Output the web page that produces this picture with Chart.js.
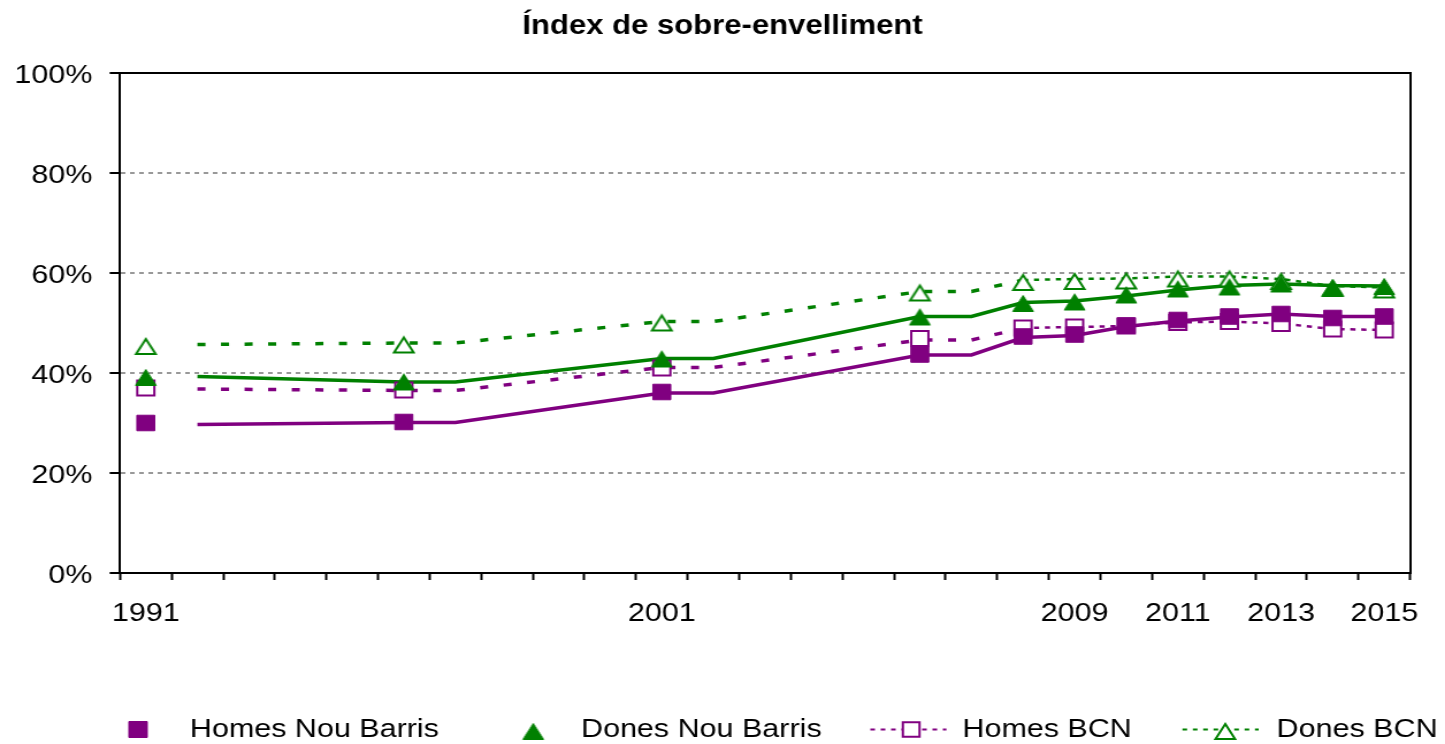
<!DOCTYPE html>
<html lang="ca">
<head>
<meta charset="utf-8">
<title>Índex de sobre-envelliment</title>
<script src="https://cdn.jsdelivr.net/npm/chart.js@4.4.1/dist/chart.umd.min.js"></script>
<style>
  html, body { margin: 0; padding: 0; background: #fff; overflow: hidden; }
  /* the original Excel picture is stretched sideways, so the canvas is too */
  #chart { display: block; transform: scaleX(1.1505); transform-origin: 0 0; }
</style>
</head>
<body>
<canvas id="chart" width="1256" height="744"></canvas>
<script>
// one slot per year, only a few of them get a label
const years = ['1991', '1992', '1993', '1994', '1995', '1996', '1997', '1998', '1999', '2000',
  '2001', '2002', '2003', '2004', '2005', '2006', '2007', '2008', '2009', '2010',
  '2011', '2012', '2013', '2014', '2015'];
const labelledYears = ['1991', '2001', '2009', '2011', '2013', '2015'];

// marker series (%)
const homesNouBarris = [30.0, null, null, null, null, 30.2, null, null, null, null,
  36.2, null, null, null, null, 43.7, null, 47.3, 47.7, 49.5, 50.6, 51.3, 51.8, 51.0, 51.3];
const donesNouBarris = [39.6, null, null, null, null, 38.7, null, null, null, null,
  43.3, null, null, null, null, 51.7, null, 54.4, 54.7, 56.1, 57.3, 57.7, 58.3, 57.6, 57.8];
const homesBcn = [37.0, null, null, null, null, 36.6, null, null, null, null,
  41.0, null, null, null, null, 46.9, null, 49.0, 49.2, 49.4, 50.1, 50.3, 49.9, 48.8, 48.6];
const donesBcn = [45.8, null, null, null, null, 46.1, null, null, null, null,
  50.5, null, null, null, null, 56.5, null, 58.6, 58.8, 58.9, 59.3, 59.3, 58.8, 57.4, 57.1];

// helper lines drawn without markers (shifted one year after each census value)
const homesNouBarrisLine = [null, 29.7, null, null, null, 30.1, 30.1, null, null, null,
  36.0, 36.0, null, null, null, 43.6, 43.6, 47.1, 47.5, 49.3, 50.4, 51.2, 51.8, 51.3, 51.3];
const donesNouBarrisLine = [null, 39.3, null, null, null, 38.2, 38.2, null, null, null,
  42.9, 42.9, null, null, null, 51.3, 51.3, 54.1, 54.4, 55.4, 56.6, 57.5, 57.8, 57.5, 57.4];
const homesBcnLine = [null, 36.8, null, null, null, 36.5, 36.5, null, null, null,
  41.1, 41.1, null, null, null, 46.6, 46.6, 49.0, null, null, null, null, null, null, null];
const donesBcnLine = [null, 45.7, null, null, null, 46.0, 46.0, null, null, null,
  50.3, 50.3, null, null, null, 56.3, 56.3, 58.6, null, null, null, null, null, null, null];

const PURPLE = '#800080';
const GREEN = '#008000';
const FONT = '"Liberation Sans", Arial, sans-serif';
const TEXT_SIZE = 26.5;

Chart.defaults.font.family = FONT;
Chart.defaults.color = '#000';

// Excel-like triangle: box centre sits a bit under the data point
function triangleMarker(fill, stroke, lineWidth) {
  const c = document.createElement('canvas');
  c.width = 24;
  c.height = 30;
  const g = c.getContext('2d');
  const cx = 12;
  const top = 9 + lineWidth / 2;
  const bottom = 26 - lineWidth / 2;
  const half = 9.5 - lineWidth / 2;
  g.beginPath();
  g.moveTo(cx, top);
  g.lineTo(cx + half, bottom);
  g.lineTo(cx - half, bottom);
  g.closePath();
  g.fillStyle = fill;
  g.fill();
  g.lineWidth = lineWidth;
  g.strokeStyle = stroke;
  g.stroke();
  return c;
}
const filledTriangle = triangleMarker(GREEN, GREEN, 1);
const openTriangle = triangleMarker('#fff', GREEN, 2);

// top edge of the frame + the legend laid out like the original
const frameAndLegend = {
  id: 'frameAndLegend',
  afterDraw(chart) {
    const { ctx, chartArea: a } = chart;
    ctx.save();
    ctx.strokeStyle = '#000';
    ctx.lineWidth = 2;
    ctx.beginPath();
    ctx.moveTo(a.left - 1, a.top);
    ctx.lineTo(a.right + 1, a.top);
    ctx.stroke();

    const y = 729.5;
    const entries = [
      { ds: 0, marker: 'square', mx: 120, tx: 165 },
      { ds: 1, marker: filledTriangle, mx: 463.5, tx: 505 },
      { ds: 2, marker: 'square', mx: 792, tx: 836.5, line: [756.5, 822.6] },
      { ds: 3, marker: openTriangle, mx: 1065, tx: 1109.6, line: [1027.8, 1094] }
    ];
    entries.forEach(e => {
      const d = chart.data.datasets[e.ds];
      if (e.line) {
        ctx.save();
        ctx.strokeStyle = d.borderColor;
        ctx.lineWidth = 2;
        ctx.setLineDash([4, 5]);
        ctx.beginPath();
        ctx.moveTo(e.line[0], y);
        ctx.lineTo(e.line[1], y);
        ctx.stroke();
        ctx.restore();
      }
      if (e.marker === 'square') {
        const open = d.pointBackgroundColor === '#fff';
        const s = open ? 14.5 : 16;
        ctx.fillStyle = open ? '#fff' : d.backgroundColor;
        ctx.strokeStyle = d.borderColor;
        ctx.lineWidth = open ? 2 : 1;
        ctx.beginPath();
        ctx.rect(e.mx - s / 2, y - s / 2, s, s);
        ctx.fill();
        ctx.stroke();
      } else {
        ctx.drawImage(e.marker, e.mx - 12, y - 0.5 - 15);
      }
      ctx.fillStyle = '#000';
      ctx.font = TEXT_SIZE + 'px ' + FONT;
      ctx.textAlign = 'left';
      ctx.textBaseline = 'middle';
      ctx.fillText(d.label, e.tx, y);
    });
    ctx.restore();
  }
};

new Chart(document.getElementById('chart'), {
  type: 'line',
  data: {
    labels: years,
    datasets: [
      {
        label: 'Homes Nou Barris',
        data: homesNouBarris,
        showLine: false,
        pointStyle: 'rect',
        pointRadius: 11,
        pointBorderWidth: 1,
        backgroundColor: PURPLE,
        borderColor: PURPLE,
        order: 0
      },
      {
        label: 'Dones Nou Barris',
        data: donesNouBarris,
        showLine: false,
        pointStyle: filledTriangle,
        pointRadius: 10,
        backgroundColor: GREEN,
        borderColor: GREEN,
        order: 0
      },
      {
        label: 'Homes BCN',
        data: homesBcn,
        spanGaps: false,
        borderColor: PURPLE,
        borderWidth: 2.5,
        borderDash: [4.5, 5],
        pointStyle: 'rect',
        pointRadius: 10.5,
        pointBorderWidth: 2,
        pointBackgroundColor: '#fff',
        pointBorderColor: PURPLE,
        backgroundColor: PURPLE,
        order: 1
      },
      {
        label: 'Dones BCN',
        data: donesBcn,
        spanGaps: false,
        borderColor: GREEN,
        borderWidth: 2.5,
        borderDash: [4.5, 5],
        pointStyle: openTriangle,
        pointRadius: 10,
        backgroundColor: GREEN,
        order: 1
      },
      {
        label: 'Homes Nou Barris (línia)',
        data: homesNouBarrisLine,
        spanGaps: true,
        borderColor: PURPLE,
        borderWidth: 3.5,
        pointRadius: 0,
        order: 2
      },
      {
        label: 'Dones Nou Barris (línia)',
        data: donesNouBarrisLine,
        spanGaps: true,
        borderColor: GREEN,
        borderWidth: 3.5,
        pointRadius: 0,
        order: 2
      },
      {
        label: 'Homes BCN (línia)',
        data: homesBcnLine,
        spanGaps: true,
        borderColor: PURPLE,
        borderWidth: 3.5,
        borderDash: [7, 13.5],
        pointRadius: 0,
        order: 3
      },
      {
        label: 'Dones BCN (línia)',
        data: donesBcnLine,
        spanGaps: true,
        borderColor: GREEN,
        borderWidth: 3.5,
        borderDash: [7, 13.5],
        pointRadius: 0,
        order: 3
      }
    ]
  },
  options: {
    responsive: false,
    animation: false,
    devicePixelRatio: 1,
    events: [],
    elements: { line: { tension: 0 } },
    layout: { padding: 0 },
    scales: {
      x: {
        type: 'category',
        offset: true,
        grid: {
          offset: true,
          drawOnChartArea: false,
          tickLength: 7,
          tickColor: '#000',
          tickWidth: 2
        },
        border: { color: '#000', width: 2 },
        ticks: {
          autoSkip: false,
          maxRotation: 0,
          padding: 18,
          font: { size: TEXT_SIZE },
          color: '#000',
          callback: function(value) {
            const year = this.getLabelForValue(value);
            return labelledYears.includes(year) ? year : '';
          }
        },
        afterFit: scale => { scale.height = 171; }
      },
      y: {
        min: 0,
        max: 100,
        ticks: {
          stepSize: 20,
          padding: 15,
          labelOffset: 2.5,
          font: { size: TEXT_SIZE },
          color: '#000',
          callback: v => v + '%'
        },
        grid: {
          color: '#999',
          lineWidth: 2,
          tickLength: 9,
          tickColor: '#000',
          tickWidth: 2,
          tickBorderDash: []
        },
        border: { color: '#000', width: 2, dash: [4, 4] },
        afterFit: scale => { scale.width = 104.3; }
      },
      yRight: {
        position: 'right',
        grid: { display: false },
        ticks: { display: false },
        border: { color: '#000', width: 2 },
        afterFit: scale => { scale.width = 30.4; }
      }
    },
    plugins: {
      legend: { display: false },
      tooltip: { enabled: false },
      title: {
        display: true,
        text: 'Índex de sobre-envelliment',
        color: '#000',
        font: { size: 27, weight: 'bold' },
        padding: { top: 10, bottom: 30.6 }
      }
    }
  },
  plugins: [frameAndLegend]
});
</script>
</body>
</html>
